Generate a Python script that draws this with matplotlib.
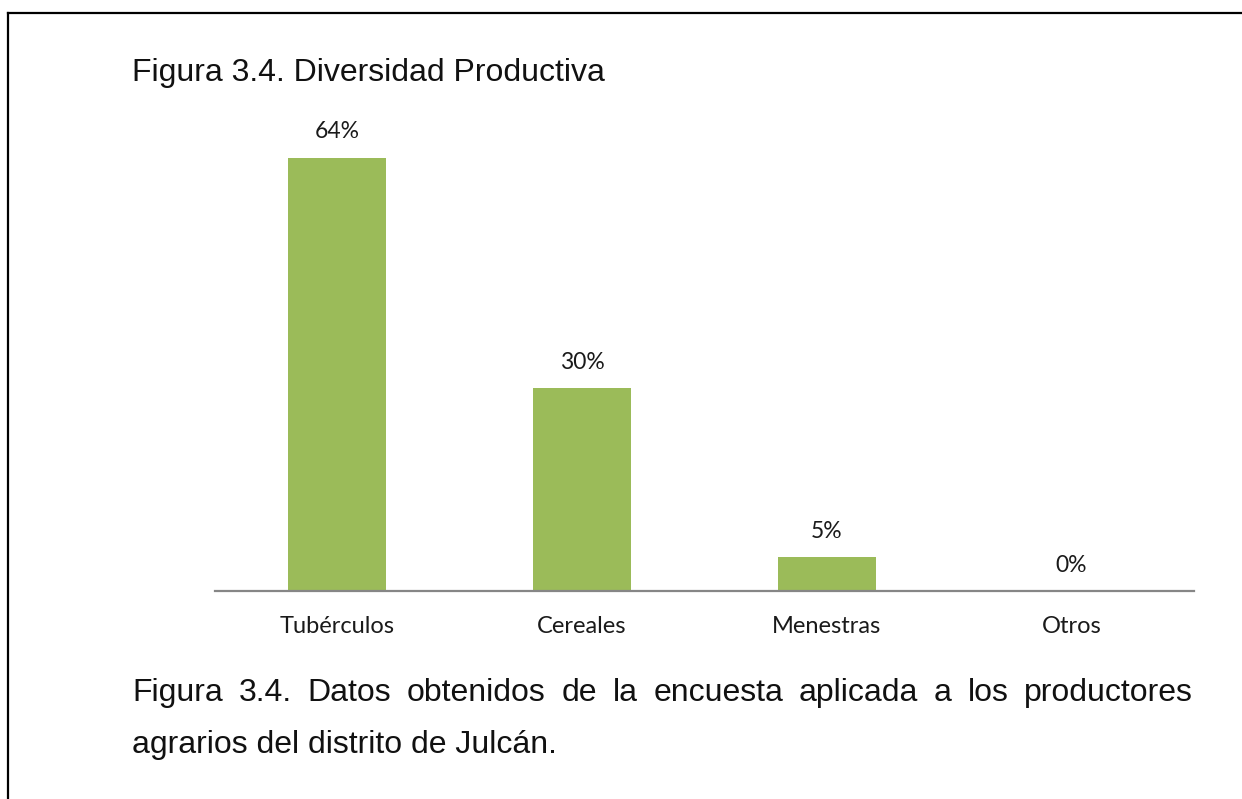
import matplotlib
matplotlib.use("Agg")
import matplotlib.pyplot as plt
from matplotlib.lines import Line2D

categories = ["Tubérculos", "Cereales", "Menestras", "Otros"]
values = [64, 30, 5, 0]
title = "Figura 3.4. Diversidad Productiva"
caption_l1 = "Figura 3.4. Datos obtenidos de la encuesta aplicada a los productores"
caption_l2 = "agrarios del distrito de Julcán."

W, H = 1242, 799
fig = plt.figure(figsize=(W / 100, H / 100), dpi=100)
fig.patch.set_facecolor("white")

# page frame (left + top)
fig.add_artist(Line2D([8 / W, 8 / W], [0, 1 - 13 / H], color="black", lw=1.6,
                      transform=fig.transFigure))
fig.add_artist(Line2D([8 / W, 1], [1 - 13 / H, 1 - 13 / H], color="black", lw=1.6,
                      transform=fig.transFigure))

# axes in pixel geometry
x0, x1, ybase, ytop = 215, 1194, 591, 120
ax = fig.add_axes([x0 / W, 1 - ybase / H, (x1 - x0) / W, (ybase - ytop) / H])
px_per_unit = 6.77
ax.set_ylim(0, (ybase - ytop) / px_per_unit)
ax.set_xlim(-0.5, len(categories) - 0.5)

xs = range(len(categories))
ax.bar(xs, values, width=0.4, color="#9bbb59", zorder=2)
for x, v in zip(xs, values):
    ax.annotate(f"{v}%", (x, v), textcoords="offset points", xytext=(0, 11),
                ha="center", va="bottom", fontsize=16.5, family="Lato", color="#1a1a1a")

for s in ["top", "right", "left"]:
    ax.spines[s].set_visible(False)
ax.spines["bottom"].set_color("#868686")
ax.spines["bottom"].set_linewidth(1.6)
ax.set_yticks([])
ax.set_xticks(list(xs))
ax.set_xticklabels(categories, fontsize=17, family="Lato", color="#1a1a1a")
ax.tick_params(axis="x", length=0, pad=18)

fig.text(132 / W, 1 - 73 / H, title, fontsize=23, family="Liberation Sans",
         ha="left", va="center", color="#111")

# justified caption, first line
cap_fs = 23
left, right = 132, 1193
words = caption_l1.split()
fig.canvas.draw()
r = fig.canvas.get_renderer()
tmp = [fig.text(0, 0, w, fontsize=cap_fs, family="Liberation Sans") for w in words]
widths = [t.get_window_extent(r).width for t in tmp]
for t in tmp:
    t.remove()
gap = (right - left - sum(widths)) / (len(words) - 1)
xpos = left
for w, wd in zip(words, widths):
    fig.text(xpos / W, 1 - 693 / H, w, fontsize=cap_fs, family="Liberation Sans",
             ha="left", va="center", color="#111")
    xpos += wd + gap
fig.text(left / W, 1 - 745 / H, caption_l2, fontsize=cap_fs, family="Liberation Sans",
         ha="left", va="center", color="#111")

fig.savefig("out.png", dpi=100, facecolor="white")
